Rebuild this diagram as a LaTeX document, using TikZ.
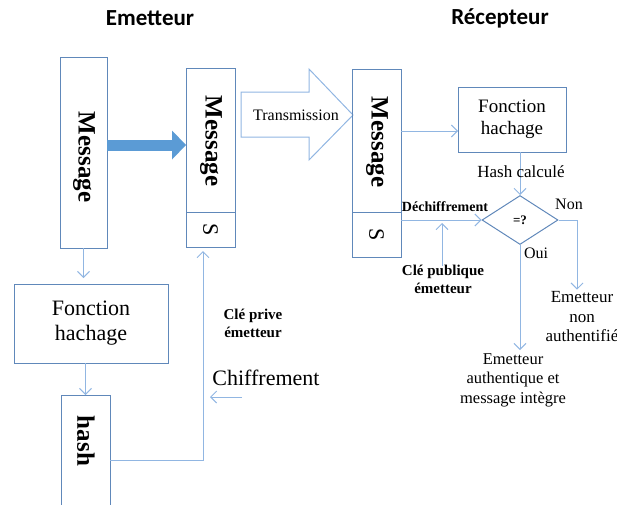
\documentclass[tikz,border=0pt]{standalone}
\usepackage{fontspec}
\setmainfont{Liberation Serif}
\newfontfamily\titlefont{Carlito}
\usetikzlibrary{arrows.meta, positioning, shapes.geometric}
\definecolor{boxblue}{RGB}{96,136,186}
\definecolor{lineblue}{RGB}{145,182,226}
\definecolor{fillblue}{RGB}{91,155,213}

\begin{document}
\begin{tikzpicture}[
	x=1pt, y=-1pt,
	box/.style = {draw=boxblue, line width=1pt, inner sep=0pt, outer sep=0pt},
	vtext/.style = {rotate=-90, font=\bfseries\fontsize{25}{25}\selectfont},
	arr/.style = {draw=lineblue, line width=1pt, -{Straight Barb[length=6pt,width=12pt]}},
	bigarr/.style = {draw=fillblue, line width=11pt, -{Triangle[length=14pt,width=29pt,line width=0pt]}},
	lbl/.style = {align=center, inner sep=0pt},
	bold/.style = {align=center, inner sep=0pt, font=\bfseries\fontsize{14}{18}\selectfont},
	title/.style = {font=\titlefont\bfseries\fontsize{23}{23}\selectfont}
	]
	\useasboundingbox (0,0) rectangle (617,504);
%
	\node[title] (tEm) at (150,18) {Emetteur};
	\node[title] (tRe) at (500,18) {Récepteur};
% emetteur
	\node[box, minimum width=47pt, minimum height=191pt] (msgA) at (83.5,152.5) {};
	\node[vtext] (msgAt) at (84,157) {Message};
	\node[box, minimum width=154pt, minimum height=79pt, lbl,
		font=\fontsize{22}{25}\selectfont] (fhA) at (91,323.5) {Fonction\\hachage};
	\node[box, minimum width=49pt, minimum height=130pt] (hashBox) at (85.5,460) {};
	\node[vtext] (hashT) at (86,441) {hash};
%
	\node[box, minimum width=49pt, minimum height=144pt] (msgB) at (210.5,140) {};
	\node[box, minimum width=49pt, minimum height=35pt, below=0pt of msgB] (sB) {};
	\node[vtext] (msgBt) at (211,141) {Message};
	\node[rotate=-90, font=\fontsize{22}{22}\selectfont] (sBt) at (sB) {S};
%
	\coordinate (bA) at ([yshift=-5pt]msgB.west);
	\draw[bigarr] (msgA.east |- bA) -- (bA);
%
	\draw[arr] (msgA.south) -- ([yshift=6pt]fhA.north -| msgA.south);
	\draw[arr] (fhA.south -| hashBox.north) -- (hashBox.north);
	\draw[arr] (hashBox.east) -| ([xshift=-7.5pt,yshift=-4pt]sB.south);
%
	\node[bold, font=\bfseries\fontsize{15}{18}\selectfont] (clePriv) at (253,323) {Clé prive\\émetteur};
	\node[lbl, font=\fontsize{22}{24}\selectfont] (chiff) at (266,378) {Chiffrement};
	\coordinate (cA) at (242,397);
	\coordinate (cB) at (210,397);
	\draw[arr] (cA) -- (cB);
% transmission
	\draw[draw=lineblue, line width=1pt] (241,92) -- (309,92) -- (309,69) -- (353,115)
		-- (309,160) -- (309,137) -- (241,137) -- cycle;
	\node[lbl, font=\fontsize{16}{18}\selectfont] (trans) at (296,115) {Transmission};
% recepteur
	\node[box, minimum width=49pt, minimum height=143pt] (msgC) at (376.5,140.5) {};
	\node[box, minimum width=49pt, minimum height=45pt, below=0pt of msgC] (sC) {};
	\node[vtext] (msgCt) at (377,142) {Message};
	\node[rotate=-90, font=\fontsize{22}{22}\selectfont] (sCt) at (sC) {S};
%
	\node[box, minimum width=108pt, minimum height=65pt, lbl,
		font=\fontsize{19}{22}\selectfont] (fhB) at (512,119.5) {Fonction\\hachage};
	\node[diamond, draw=boxblue, line width=1pt, aspect=1.55, minimum width=76pt,
		minimum height=49pt, inner sep=0pt, font=\bfseries\fontsize{13}{13}\selectfont] (diam) at (520,220) {=?};
%
	\coordinate (mc) at ([yshift=9.5pt]msgC.east);
	\draw[arr] (mc) -- (mc -| fhB.west);
	\draw[arr] (diam.north |- fhB.south) -- (diam.north);
	\node[lbl, font=\fontsize{17}{19}\selectfont] (hashCalc) at (521,172) {Hash calculé};
%
	\draw[arr] (diam.west -| sC.east) -- (diam.west);
	\node[bold] (dechiff) at (445,207) {Déchiffrement};
	\node[bold, font=\bfseries\fontsize{15}{18}\selectfont] (clePub) at (443,279) {Clé publique\\émetteur};
	\coordinate (cpA) at (442,266);
	\draw[arr, shorten >=3pt] (cpA) -- (cpA |- diam.west);
%
	\node[lbl, font=\fontsize{17}{19.5}\selectfont] (nonAuth) at (582,317) {Emetteur\\non\\authentifié};
	\node[lbl, font=\fontsize{16.5}{19.5}\selectfont] (authInt) at (513,380) {Emetteur\\authentique et\\message intègre};
	\draw[arr] (diam.east) -| ([xshift=-5pt,yshift=2pt]nonAuth.north);
	\draw[arr] (diam.south) -- ([yshift=3pt]diam.south |- authInt.north);
	\node[lbl, font=\fontsize{16}{18}\selectfont] (non) at (569,204) {Non};
	\node[lbl, font=\fontsize{16}{18}\selectfont] (oui) at (536,253) {Oui};
\end{tikzpicture}
\end{document}
